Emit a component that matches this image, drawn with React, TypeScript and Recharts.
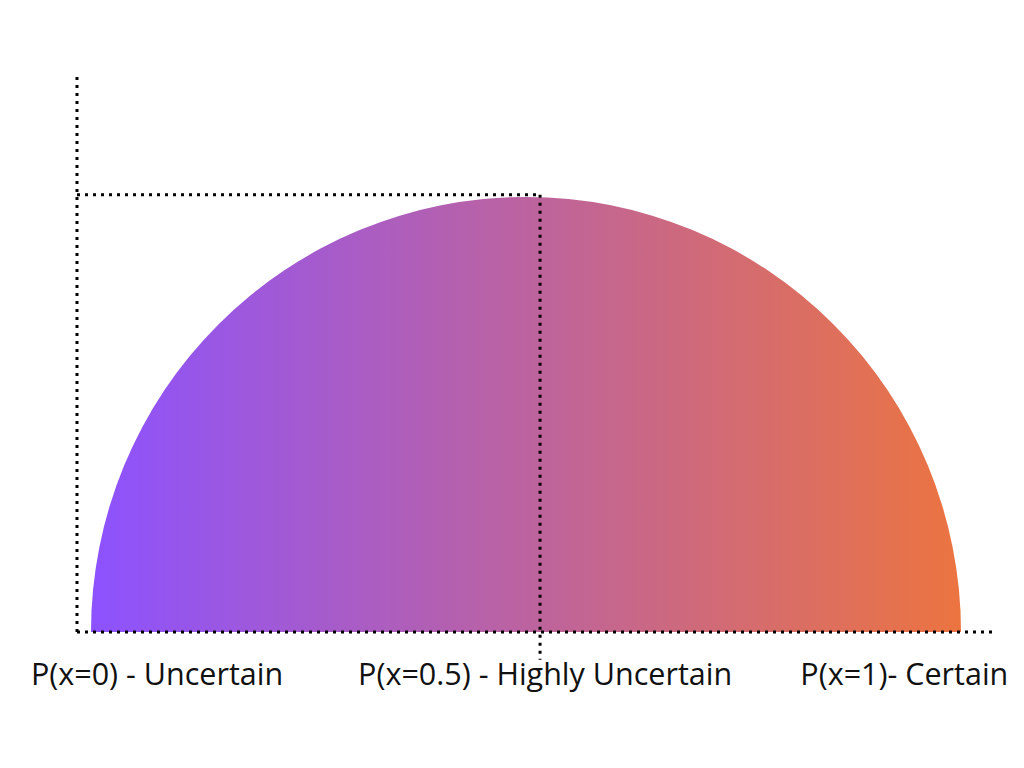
import { PieChart, Pie, Cell, ComposedChart, XAxis, YAxis, ReferenceLine } from "recharts";

// probability axis ticks and their labels
const tickValues = [0, 0.5, 1];
const tickLabels = ["P(x=0) - Uncertain", "P(x=0.5) - Highly Uncertain", "P(x=1)- Certain"];

// the single half-disc
const curveData = [{ name: "uncertainty", value: 1 }];

// peak of the curve (dotted guide)
const peakX = [0.516];
const peakY = [1.005];
const guideBottom = [-0.064];

const xDomain = [-0.016, 1.041];
const yDomain = [0, 1.276];

const DOT = { stroke: "#000", strokeWidth: 3, strokeDasharray: "3 5" };
const FONT = "'Open Sans', sans-serif";

const LabelTick = (props: any) => {
  const { x, y, index } = props;
  // labels sit under the axis, nudged like the original slide
  const anchors = ["start", "middle", "end"];
  const shifts = [-60, 19, 47];
  return (
    <text
      x={x + shifts[index]}
      y={y}
      dy={53}
      textAnchor={anchors[index]}
      fill="#111"
      fontSize={30.5}
      fontFamily={FONT}
    >
      {tickLabels[index]}
    </text>
  );
};

export default function App() {
  return (
    <div style={{ position: "fixed", left: 0, top: 0, width: 1024, height: 768, background: "#fff" }}>
      <div style={{ position: "absolute", left: 0, top: 0 }}>
        <PieChart width={1024} height={768} margin={{ top: 0, right: 0, left: 0, bottom: 0 }}>
          <defs>
            <linearGradient id="semiFill" x1="0" y1="0" x2="1" y2="0">
              <stop offset="0%" stopColor="#8C52FF" />
              <stop offset="100%" stopColor="#EC7440" />
            </linearGradient>
          </defs>
          <Pie
            data={curveData}
            dataKey="value"
            cx={526}
            cy={632}
            innerRadius={0}
            outerRadius={435}
            startAngle={180}
            endAngle={0}
            stroke="none"
            isAnimationActive={false}
          >
            {curveData.map((d, i) => (
              <Cell key={`c-${i}`} fill="url(#semiFill)" />
            ))}
          </Pie>
        </PieChart>
      </div>
      <div style={{ position: "absolute", left: 0, top: 0 }}>
        <ComposedChart width={1024} height={768} margin={{ top: 77, right: 27, left: 76, bottom: 0 }}>
          <XAxis
            type="number"
            dataKey="x"
            domain={xDomain}
            ticks={tickValues}
            allowDataOverflow
            height={136}
            axisLine={DOT}
            tickLine={false}
            tickSize={0}
            tickMargin={0}
            tick={<LabelTick />}
            interval={0}
          />
          <YAxis type="number" domain={yDomain} allowDataOverflow width={1} axisLine={DOT} tickLine={false} tick={false} />
          <ReferenceLine
            segment={[{ x: xDomain[0], y: peakY[0] }, { x: peakX[0], y: peakY[0] }]}
            {...DOT}
            ifOverflow="visible"
          />
          <ReferenceLine
            segment={[{ x: peakX[0], y: peakY[0] }, { x: peakX[0], y: guideBottom[0] }]}
            {...DOT}
            ifOverflow="visible"
          />
        </ComposedChart>
      </div>
    </div>
  );
}
